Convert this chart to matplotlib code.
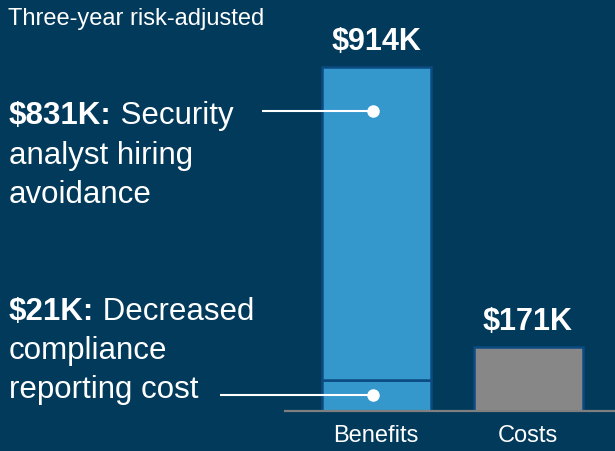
import matplotlib
matplotlib.use("Agg")
import matplotlib.pyplot as plt

# ---- data ----
categories = ["Benefits", "Costs"]
benefit_total = 914
benefit_hiring = 831
benefit_other = benefit_total - benefit_hiring
costs_total = 171
value_labels = ["$914K", "$171K"]
title_text = "Three-year risk-adjusted"
hiring_bold = "$831K:"
hiring_lines = [" Security", "analyst hiring", "avoidance"]
compliance_bold = "$21K:"
compliance_lines = [" Decreased", "compliance", "reporting cost"]

# ---- style ----
BG = "#023A5C"
BLUE = "#3598CD"
EDGE = "#0C4A82"
GRAY = "#878787"
AXIS = "#7F7F7F"
FONT = "Liberation Sans"

W, H = 615, 451
fig = plt.figure(figsize=(W / 100, H / 100), dpi=100, facecolor=BG)

base_px = 411
scale = 0.3764  # px per K
ymax = base_px / scale
c0, c1 = 376, 528
unit = c1 - c0
left_px = 285
ax = fig.add_axes([left_px / W, (H - base_px) / H, (W - left_px) / W, base_px / H])
ax.set_facecolor(BG)
ax.set_xlim(-(c0 - left_px) / unit, 1 + (W - c1) / unit)
ax.set_ylim(0, ymax)

bw = 109 / unit
xs = [0, 1]
ax.bar(xs[0], benefit_other, width=bw, color=BLUE, edgecolor=EDGE, linewidth=1.8)
ax.bar(xs[0], benefit_hiring, bottom=benefit_other, width=bw, color=BLUE, edgecolor=EDGE, linewidth=1.8)
ax.bar(xs[1], costs_total, width=bw, color=GRAY, edgecolor=EDGE, linewidth=1.8)

for x, v, lab in zip(xs, [benefit_total, costs_total], value_labels):
    ax.annotate(lab, (x, v), xytext=(0, 12), textcoords="offset points",
                ha="center", va="baseline", color="white", fontsize=22,
                fontweight="bold", family=FONT)

for s in ["top", "right", "left"]:
    ax.spines[s].set_visible(False)
ax.spines["bottom"].set_color(AXIS)
ax.spines["bottom"].set_linewidth(1.6)
ax.set_yticks([])
ax.set_xticks(xs)
ax.set_xticklabels(categories, color="white", fontsize=17, family=FONT)
ax.tick_params(axis="x", length=0, pad=10)

# annotation lines + dots
def px2x(px):
    return (px - c0) / unit

dot_x = px2x(373)
top_dot_y = (base_px - 111) / scale
bot_dot_y = benefit_other / 2
for xl, yd in [(262, top_dot_y), (220, bot_dot_y)]:
    ax.plot([px2x(xl), dot_x], [yd, yd], color="white", lw=1.5, clip_on=False,
            solid_capstyle="butt")
    ax.plot([dot_x], [yd], "o", color="white", ms=8, clip_on=False)

# texts
def ftext(x, y, s, **kw):
    return fig.text(x / W, 1 - y / H, s, color="white", family=FONT,
                    va="baseline", ha="left", **kw)

ftext(8, 25, title_text, fontsize=17)

renderer = fig.canvas.get_renderer()

def block(x, baselines, bold, lines, fs=22.5):
    t = ftext(x, baselines[0], bold, fontsize=fs, fontweight="bold")
    bb = t.get_window_extent(renderer)
    ftext(bb.x1, baselines[0], lines[0], fontsize=fs)
    for b, l in zip(baselines[1:], lines[1:]):
        ftext(x, b, l, fontsize=fs)

block(9, [124, 164, 203], hiring_bold, hiring_lines)
block(9, [320, 359, 398], compliance_bold, compliance_lines)

fig.savefig("out.png", dpi=100, facecolor=BG)
